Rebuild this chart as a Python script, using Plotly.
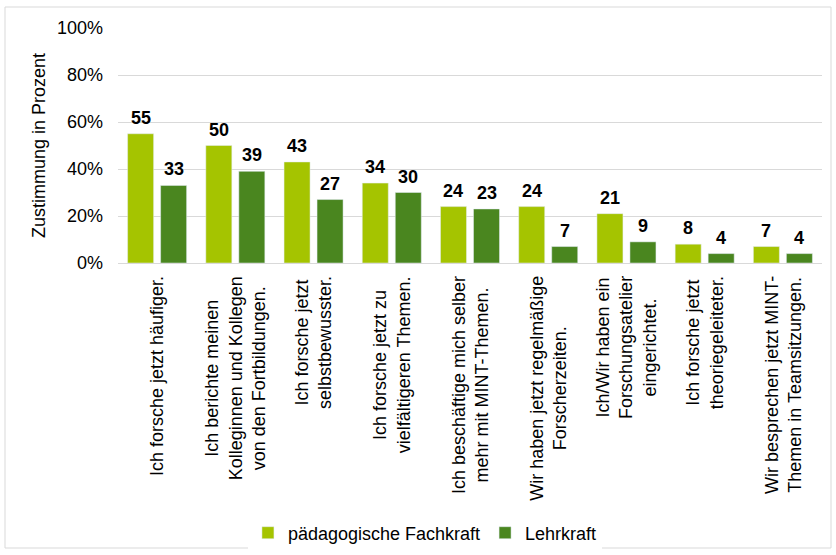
import plotly.graph_objects as go

categories = [
    "Ich forsche jetzt häufiger.",
    "Ich berichte meinen<br>Kolleginnen und Kollegen<br>von den Fortbildungen.",
    "Ich forsche jetzt<br>selbstbewusster.",
    "Ich forsche jetzt zu<br>vielfältigeren Themen.",
    "Ich beschäftige mich selber<br>mehr mit MINT-Themen.",
    "Wir haben jetzt regelmäßige<br>Forscherzeiten.",
    "Ich/Wir haben ein<br>Forschungsatelier<br>eingerichtet.",
    "Ich forsche jetzt<br>theoriegeleiteter.",
    "Wir besprechen jetzt MINT-<br>Themen in Teamsitzungen.",
]
fachkraft = [55, 50, 43, 34, 24, 24, 21, 8, 7]
lehrkraft = [33, 39, 27, 30, 23, 7, 9, 4, 4]
y_ticks = [0, 20, 40, 60, 80, 100]
y_tick_labels = ["0%", "20%", "40%", "60%", "80%", "100%"]

FONT = "Liberation Sans, Arial, sans-serif"
FS = 18
keys = list(range(len(categories)))

L, R, T, B = 118, 14, 28, 292
W, H = 836, 555
pw, ph = W - L - R, H - T - B
BARGAP, GROUPGAP = 0.156, 0.212
slot_px = pw / len(categories) * (1 - BARGAP) / 2

fig = go.Figure()
fig.add_trace(go.Bar(x=keys, y=fachkraft, name="pädagogische Fachkraft",
                     marker_color="#A5C400", hoverinfo="skip"))
fig.add_trace(go.Bar(x=keys, y=lehrkraft, name="Lehrkraft",
                     marker_color="#4A861F", hoverinfo="skip"))

# value labels above the bars
for series, sign in ((fachkraft, -1), (lehrkraft, 1)):
    for k, v in zip(keys, series):
        fig.add_annotation(x=k, y=v, xref="x", yref="y", text=f"<b>{v}</b>",
                           showarrow=False, xanchor="center", yanchor="bottom",
                           xshift=sign * slot_px / 2, yshift=4,
                           font=dict(size=FS, color="black", family=FONT))

# category labels (rotated, centered lines)
for k, c in zip(keys, categories):
    fig.add_annotation(x=k, y=0, xref="x", yref="y", text=c, showarrow=False,
                       textangle=-90, yanchor="top", xanchor="center", yshift=-11,
                       align="center", font=dict(size=FS, color="black", family=FONT))

fig.add_shape(
    type="rect", xref="paper", yref="paper",
    x0=(5 - L) / pw, x1=(831 - L) / pw,
    y0=(H - B - 548) / ph, y1=(H - B - 7) / ph,
    line=dict(color="#D9D9D9", width=1), layer="below",
)

fig.update_layout(
    width=W, height=H,
    margin=dict(l=L, r=R, t=T, b=B, autoexpand=False),
    paper_bgcolor="white", plot_bgcolor="white",
    barmode="group", bargap=BARGAP, bargroupgap=GROUPGAP,
    font=dict(family=FONT, size=FS, color="black"),
    showlegend=True,
    legend=dict(orientation="h", x=0.436, xanchor="center", yref="container",
                y=1 - 533 / H, yanchor="middle",
                font=dict(size=FS, family=FONT, color="black")),
    xaxis=dict(range=[-0.5, len(categories) - 0.5], showticklabels=False, automargin=False,
               showline=True, linecolor="#D9D9D9", linewidth=1, ticks="", showgrid=False),
    yaxis=dict(range=[0, 100], tickmode="array", tickvals=y_ticks, ticktext=y_tick_labels,
               automargin=False,
               showgrid=True, gridcolor="#D9D9D9", gridwidth=1, zeroline=False,
               ticklabelstandoff=14, tickfont=dict(size=FS, family=FONT),
               title=dict(text="Zustimmung in Prozent", font=dict(size=FS, family=FONT), standoff=6)),
)

fig.write_html("out.html", config={"displayModeBar": False},
               post_script="document.body.style.margin='0';")
